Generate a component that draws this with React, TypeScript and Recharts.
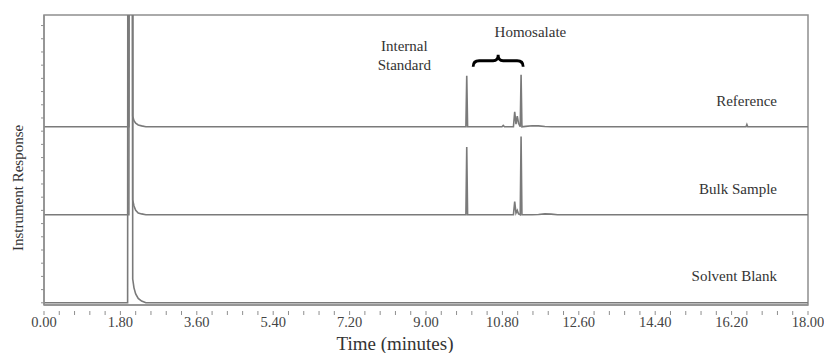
import React from 'react';
import {
  LineChart,
  Line,
  XAxis,
  YAxis,
  ReferenceArea,
  ReferenceDot,
} from 'recharts';

// retention time (minutes), shared by all three traces
const timeMin = [
  0, 1.97, 2.0, 2.03, 2.06, 2.09, 2.12, 2.16, 2.22, 2.3, 2.4,
  9.94, 9.96, 9.98,
  10.79, 10.82, 10.85,
  11.06, 11.09, 11.12, 11.15, 11.18, 11.22, 11.24, 11.26,
  11.35, 11.5, 11.65, 11.8, 11.95, 12.1,
  16.54, 16.56, 16.58,
  18,
];

// detector response for each run (solvent front goes off scale)
const reference = [
  0, 0, 0, 25, 25, 0.12, 0.07, 0.04, 0.02, 0.01, 0,
  0, 0.58, 0,
  0, 0.015, 0,
  0, 0.17, 0.03, 0.12, 0.04, 0, 0.59, 0,
  0.005, 0.012, 0.01, 0.003, 0, 0,
  0, 0.025, 0,
  0,
];

const bulkSample = [
  0, 0, 0, 25, 25, 0.17, 0.1, 0.05, 0.02, 0.01, 0,
  0, 0.77, 0,
  0, 0, 0,
  0, 0.15, 0.02, 0.05, 0.01, 0, 0.89, 0,
  0, 0, 0.003, 0.01, 0.008, 0,
  0, 0, 0,
  0,
];

const solventBlank = [
  0, 0, 25, 25, 25, 0.27, 0.17, 0.1, 0.05, 0.02, 0,
  0, 0, 0,
  0, 0, 0,
  0, 0, 0, 0, 0, 0, 0, 0,
  0, 0, 0, 0, 0, 0,
  0, 0, 0,
  0,
];

const majorTicks = [0, 1.8, 3.6, 5.4, 7.2, 9.0, 10.8, 12.6, 14.4, 16.2, 18.0];

// traces are stacked one above the other
const OFFSET_REF = 2;
const OFFSET_BULK = 1;
const Y_MIN = -0.025;
const Y_MAX = 3.27;

const rows = timeMin.map((t, i) => ({
  t,
  reference: reference[i] + OFFSET_REF,
  bulk: bulkSample[i] + OFFSET_BULK,
  blank: solventBlank[i],
}));

const minorTicks: number[] = [];
for (let i = 0; i < majorTicks.length - 1; i++) {
  const step = (majorTicks[i + 1] - majorTicks[i]) / 5;
  for (let k = 0; k < 5; k++) minorTicks.push(+(majorTicks[i] + k * step).toFixed(2));
}
minorTicks.push(18);

const yTicks: number[] = [];
for (let v = 0; v <= Y_MAX; v += 0.15) yTicks.push(+v.toFixed(2));

const LINE = '#7a7a7a';
const AXIS = '#8f8f8f';
const TEXT = '#333';
const SERIF = "'Liberation Serif', 'Times New Roman', serif";

const XTick = (props: any) => {
  const { x, y, payload } = props;
  const isMajor = majorTicks.some((m) => Math.abs(m - payload.value) < 0.001);
  return (
    <g>
      <line x1={x} x2={x} y1={y + 6} y2={y + 10} stroke={AXIS} strokeWidth={1} />
      {isMajor && (
        <text
          x={x}
          y={y + 22}
          textAnchor="middle"
          style={{ fontFamily: SERIF, fontSize: '14.5px' }}
          fill="#444"
        >
          {payload.value.toFixed(2)}
        </text>
      )}
    </g>
  );
};

const textDot = (lines: string[], anchor: 'start' | 'middle' | 'end') =>
  (p: any) => (
    <text
      x={p.cx}
      y={p.cy}
      textAnchor={anchor}
      style={{ fontFamily: SERIF, fontSize: '15px' }}
      fill={TEXT}
      dominantBaseline="central"
    >
      {lines.map((l, i) => (
        <tspan key={i} x={p.cx} dy={i === 0 ? 0 : '1.3em'}>
          {l}
        </tspan>
      ))}
    </text>
  );

const brace = (p: any) => (
  <path
    transform={`translate(${p.cx},${p.cy})`}
    d="M -25 6 Q -25 0 -19 0 L -5 0 Q 0 0 0 -6 Q 0 0 5 0 L 19 0 Q 25 0 25 6"
    fill="none"
    stroke="#000"
    strokeWidth={2.8}
  />
);

export default function App() {
  return (
    <div style={{ width: 824, height: 353, fontFamily: SERIF }}>
      <style>{'body{margin:0;background:#fff}'}</style>
      <LineChart
        width={824}
        height={353}
        data={rows}
        margin={{ top: 15, right: 16, bottom: 0, left: 0 }}
      >
        <XAxis
          dataKey="t"
          type="number"
          domain={[0, 18]}
          ticks={minorTicks}
          interval={0}
          tick={<XTick />}
          tickLine={false}
          tickSize={0}
          tickMargin={0}
          height={48}
          axisLine={{ stroke: AXIS, strokeWidth: 1.5 }}
          label={() => (
            <text x={395} y={350} textAnchor="middle" style={{ fontFamily: SERIF, fontSize: '19px' }} fill={TEXT}>
              Time (minutes)
            </text>
          )}
        />
        <YAxis
          type="number"
          domain={[Y_MIN, Y_MAX]}
          allowDataOverflow
          ticks={yTicks}
          interval={0}
          width={44}
          tick={() => <g />}
          tickSize={3}
          tickLine={{ stroke: AXIS }}
          axisLine={{ stroke: AXIS, strokeWidth: 1.5 }}
          label={() => (
            <text
              x={18}
              y={188}
              transform="rotate(-90 18 188)"
              textAnchor="middle"
              dominantBaseline="central"
              style={{ fontFamily: SERIF, fontSize: '15px' }}
              fill={TEXT}
            >
              Instrument Response
            </text>
          )}
        />
        <ReferenceArea
          x1={0}
          x2={18}
          y1={Y_MIN}
          y2={Y_MAX}
          fill="none"
          stroke={AXIS}
          strokeWidth={1.5}
          ifOverflow="visible"
        />
        <Line type="linear" dataKey="blank" stroke={LINE} strokeWidth={1.6} dot={false} isAnimationActive={false} />
        <Line type="linear" dataKey="bulk" stroke={LINE} strokeWidth={1.6} dot={false} isAnimationActive={false} />
        <Line type="linear" dataKey="reference" stroke={LINE} strokeWidth={1.6} dot={false} isAnimationActive={false} />
        <ReferenceDot x={8.49} y={2.92} r={0} shape={textDot(['Internal', 'Standard'], 'middle')} />
        <ReferenceDot x={11.46} y={3.08} r={0} shape={textDot(['Homosalate'], 'middle')} />
        <ReferenceDot x={10.7} y={2.75} r={0} shape={brace} />
        <ReferenceDot x={17.27} y={2.295} r={0} shape={textDot(['Reference'], 'end')} />
        <ReferenceDot x={17.27} y={1.295} r={0} shape={textDot(['Bulk Sample'], 'end')} />
        <ReferenceDot x={17.27} y={0.307} r={0} shape={textDot(['Solvent Blank'], 'end')} />
      </LineChart>
    </div>
  );
}
